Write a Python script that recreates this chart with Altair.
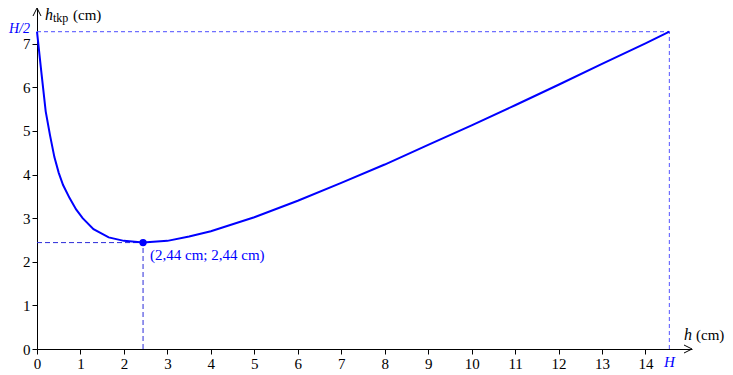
import altair as alt
import pandas as pd

# --- data ---
h_vals = [0, 0.1, 0.2, 0.3, 0.4, 0.5, 0.6, 0.75, 0.9, 1.05, 1.3, 1.65, 2.0, 2.44,
          3.0, 3.5, 4.0, 5.0, 6.0, 7.0, 8.0, 9.0, 10.0, 11.0, 12.0, 13.0, 14.0, 14.55]
htkp_vals = [7.28, 6.35, 5.45, 4.90, 4.40, 4.04, 3.76, 3.46, 3.20, 3.00, 2.75, 2.56, 2.48, 2.44,
             2.48, 2.58, 2.70, 3.02, 3.40, 3.81, 4.23, 4.68, 5.13, 5.59, 6.06, 6.54, 7.01, 7.28]
x_ticks = list(range(0, 15))
y_ticks = list(range(0, 8))
H = 14.55
H_half = 7.28
h_min = 2.44
htkp_min = 2.44
min_label = ["(2,44 cm; 2,44 cm)"]
x_max = 15.07
y_max = 7.82

FONT = "Liberation Serif"
BLUE = "#0000ff"

curve_df = pd.DataFrame({"h": h_vals, "y": htkp_vals})
xs = alt.Scale(domain=[0, x_max], nice=False, zero=False)
ys = alt.Scale(domain=[0, y_max], nice=False, zero=False)

axis_common = dict(title=None, grid=False, domainColor="black", domainWidth=1,
                   tickColor="black", tickWidth=1, tickSize=5, labelFont=FONT,
                   labelFontSize=15, labelColor="black", labelFlush=False,
                   labelOverlap=False)

curve = alt.Chart(curve_df).mark_line(color=BLUE, strokeWidth=2).encode(
    x=alt.X("h:Q", scale=xs, axis=alt.Axis(values=x_ticks, labelPadding=2, **axis_common)),
    y=alt.Y("y:Q", scale=ys, axis=alt.Axis(values=y_ticks, labelPadding=2, **axis_common)),
)

half_df = pd.DataFrame({"x": [0, H], "x2": [H, H], "y": [H_half, 0], "y2": [H_half, H_half]})
half_lines = alt.Chart(half_df).mark_rule(color="#7070ff", strokeWidth=1.2, strokeDash=[4, 3]).encode(
    x=alt.X("x:Q", scale=xs), x2="x2:Q", y=alt.Y("y:Q", scale=ys), y2="y2:Q")

min_df = pd.DataFrame({"x": [0, h_min], "x2": [h_min, h_min], "y": [htkp_min, 0], "y2": [htkp_min, htkp_min]})
min_lines = alt.Chart(min_df).mark_rule(color="#2b2bd9", strokeWidth=1, strokeDash=[5, 3]).encode(
    x=alt.X("x:Q", scale=xs), x2="x2:Q", y=alt.Y("y:Q", scale=ys), y2="y2:Q")

pt_df = pd.DataFrame({"x": [h_min], "y": [htkp_min], "t": min_label})
point = alt.Chart(pt_df).mark_circle(color=BLUE, size=55, opacity=1).encode(
    x=alt.X("x:Q", scale=xs), y=alt.Y("y:Q", scale=ys))
pt_label = alt.Chart(pt_df).mark_text(color=BLUE, font=FONT, fontSize=15, align="left",
                                      baseline="top", dx=7, dy=5).encode(
    x=alt.X("x:Q", scale=xs), y=alt.Y("y:Q", scale=ys), text="t:N")

# arrows at axis ends
arrow_df = pd.DataFrame({"x": [x_max, 0], "y": [0, y_max], "a": [0, 270]})
arrows = alt.Chart(arrow_df).mark_point(shape="M -1 -0.5 L 0 0 L -1 0.5", filled=False,
                                        color="black", strokeWidth=1, size=256, opacity=1).encode(
    x=alt.X("x:Q", scale=xs), y=alt.Y("y:Q", scale=ys), angle=alt.Angle("a:Q", scale=None))

# axis titles
ytitle_df = pd.DataFrame({"x": [0], "y": [y_max]})
yt_h = alt.Chart(ytitle_df).mark_text(text="h", font=FONT, fontSize=16, fontStyle="italic",
                                      align="left", baseline="alphabetic", dx=8, dy=12, color="black").encode(
    x=alt.X("x:Q", scale=xs), y=alt.Y("y:Q", scale=ys))
yt_sub = alt.Chart(ytitle_df).mark_text(text="tkp", font=FONT, fontSize=12,
                                        align="left", baseline="alphabetic", dx=16, dy=14, color="black").encode(
    x=alt.X("x:Q", scale=xs), y=alt.Y("y:Q", scale=ys))
yt_cm = alt.Chart(ytitle_df).mark_text(text="(cm)", font=FONT, fontSize=15,
                                       align="left", baseline="alphabetic", dx=36, dy=12, color="black").encode(
    x=alt.X("x:Q", scale=xs), y=alt.Y("y:Q", scale=ys))

xtitle_df = pd.DataFrame({"x": [x_max], "y": [0]})
xt_h = alt.Chart(xtitle_df).mark_text(text="h", font=FONT, fontSize=16, fontStyle="italic",
                                      align="left", baseline="alphabetic", dx=-8, dy=-9, color="black").encode(
    x=alt.X("x:Q", scale=xs), y=alt.Y("y:Q", scale=ys))
xt_cm = alt.Chart(xtitle_df).mark_text(text="(cm)", font=FONT, fontSize=15,
                                       align="left", baseline="alphabetic", dx=4, dy=-9, color="black").encode(
    x=alt.X("x:Q", scale=xs), y=alt.Y("y:Q", scale=ys))

# blue H and H/2 labels
H_df = pd.DataFrame({"x": [H], "y": [0]})
H_lab = alt.Chart(H_df).mark_text(text="H", font=FONT, fontSize=15, fontStyle="italic", color=BLUE,
                                  align="center", baseline="top", dy=6).encode(
    x=alt.X("x:Q", scale=xs), y=alt.Y("y:Q", scale=ys))
Hh_df = pd.DataFrame({"x": [0], "y": [H_half]})
Hh_lab = alt.Chart(Hh_df).mark_text(text="H/2", font=FONT, fontSize=14, fontStyle="italic", color=BLUE,
                                    align="right", baseline="middle", dx=-7, dy=-3).encode(
    x=alt.X("x:Q", scale=xs), y=alt.Y("y:Q", scale=ys))

chart = alt.layer(
    half_lines, min_lines, curve, point, pt_label, arrows,
    yt_h, yt_sub, yt_cm, xt_h, xt_cm, H_lab, Hh_lab
).properties(
    width=655, height=341,
    padding={"left": 37, "top": 8, "right": 41, "bottom": 26},
    autosize=alt.AutoSizeParams(type="none"),
    background="white",
).configure_view(stroke=None).configure_axis(labelFont=FONT).configure_text(font=FONT)

chart.save("out.html", embed_options={"renderer": "svg", "actions": False})
